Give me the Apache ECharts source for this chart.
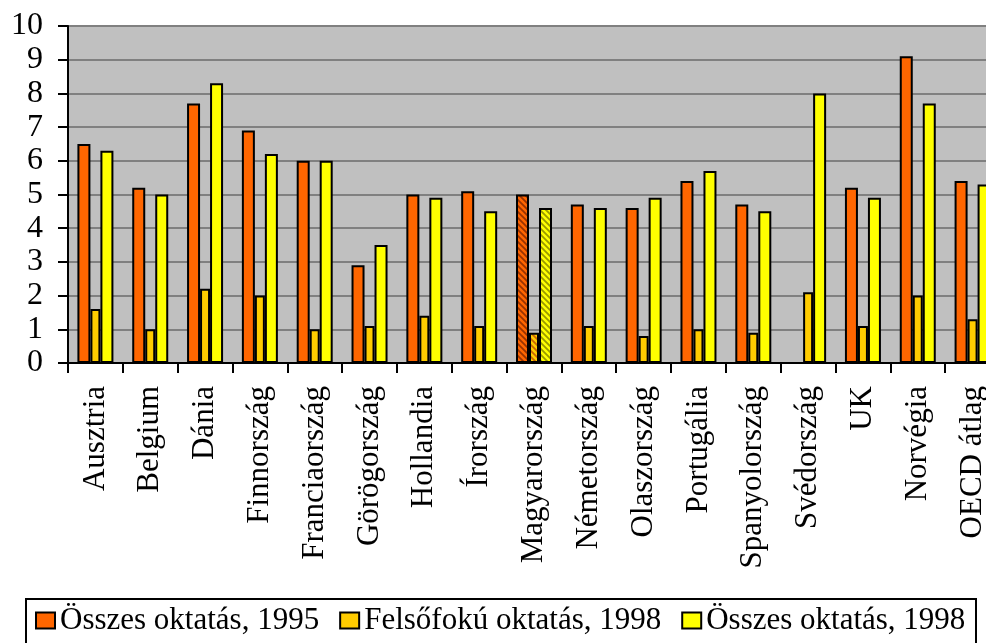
<!DOCTYPE html>
<html>
<head>
<meta charset="utf-8">
<script src="https://cdn.jsdelivr.net/npm/echarts@6/dist/echarts.min.js"></script>
<style>
  html, body { margin: 0; padding: 0; background: #fff; }
  #chart { width: 986px; height: 643px; }
</style>
</head>
<body>
<div id="chart"></div>
<script>
// adatok
const categories = ["Ausztria", "Belgium", "Dánia", "Finnország", "Franciaország", "Görögország",
  "Hollandia", "Írország", "Magyarország", "Németország", "Olaszország", "Portugália",
  "Spanyolország", "Svédország", "UK", "Norvégia", "OECD átlag"];
const osszes1995 = [6.5, 5.2, 7.7, 6.9, 6.0, 2.9, 5.0, 5.1, 5.0, 4.7, 4.6, 5.4, 4.7, null, 5.2, 9.1, 5.4];
const felsofoku1998 = [1.6, 1.0, 2.2, 2.0, 1.0, 1.1, 1.4, 1.1, 0.9, 1.1, 0.8, 1.0, 0.9, 2.1, 1.1, 2.0, 1.3];
const osszes1998 = [6.3, 5.0, 8.3, 6.2, 6.0, 3.5, 4.9, 4.5, 4.6, 4.6, 4.9, 5.7, 4.5, 8.0, 4.9, 7.7, 5.3];
const yTicks = [0, 10, 1]; // min, max, interval
const kiemelt = "Magyarország"; // sraffozott oszlopok

const FONT = "Liberation Serif";

// sraffozott minta (ferde csíkok)
const hatch = (base, stripe) => {
  const c = document.createElement("canvas");
  c.width = 6; c.height = 6;
  const g = c.getContext("2d");
  g.fillStyle = base;
  g.fillRect(0, 0, 6, 6);
  g.strokeStyle = stripe;
  g.lineWidth = 1.8;
  g.beginPath();
  g.moveTo(-3, 3); g.lineTo(3, 9);
  g.moveTo(0, 0); g.lineTo(6, 6);
  g.moveTo(3, -3); g.lineTo(9, 3);
  g.stroke();
  return { image: c, repeat: "repeat" };
};

const withHatch = (values, base, stripe) =>
  values.map((v, i) => {
    if (v === null) return "-";
    if (categories[i] === kiemelt) return { value: v, itemStyle: { color: hatch(base, stripe) } };
    return v;
  });

const chart = echarts.init(document.getElementById("chart"));

const barBase = {
  type: "bar",
  barGap: "0%",
  animation: false,
  itemStyle: { borderColor: "#000", borderWidth: 2 },
};

chart.setOption({
  backgroundColor: "#fff",
  animation: false,
  grid: {
    left: 68,
    top: 26,
    width: 932,
    bottom: 280,
    outerBoundsMode: "none",
    show: true,
    backgroundColor: "#C0C0C0",
    borderColor: "#000",
    borderWidth: 2,
  },
  graphic: [
    {
      type: "rect",
      left: 25,
      top: 598,
      shape: { width: 950, height: 70 },
      style: { fill: "#fff", stroke: "#000", lineWidth: 2 },
      z: 0,
    },
  ],
  legend: {
    left: 35,
    top: 605,
    padding: 0,
    itemWidth: 19,
    itemHeight: 16,
    itemGap: 20,
    icon: "rect",
    textStyle: { fontFamily: FONT, fontSize: 31, color: "#000" },
    data: ["Összes oktatás, 1995", "Felsőfokú oktatás, 1998", "Összes oktatás, 1998"],
    z: 5,
  },
  xAxis: {
    type: "category",
    data: categories,
    axisLine: { show: true, lineStyle: { color: "#000", width: 2 } },
    axisTick: { show: true, length: 10, lineStyle: { color: "#000", width: 2 } },
    axisLabel: {
      interval: 0,
      rotate: 90,
      margin: 23,
      fontFamily: FONT,
      fontSize: 31,
      color: "#000",
    },
    splitLine: { show: false },
  },
  yAxis: {
    type: "value",
    min: yTicks[0],
    max: yTicks[1],
    interval: yTicks[2],
    axisLine: { show: true, lineStyle: { color: "#000", width: 2 } },
    axisTick: { show: true, length: 10, lineStyle: { color: "#000", width: 2 } },
    axisLabel: { margin: 25, fontFamily: FONT, fontSize: 32, color: "#000" },
    splitLine: { show: true, lineStyle: { color: "#808080", width: 2 } },
  },
  series: [
    Object.assign({}, barBase, {
      name: "Összes oktatás, 1995",
      color: "#FF6600",
      barWidth: 13,
      data: withHatch(osszes1995, "#FF6600", "#993300"),
    }),
    Object.assign({}, barBase, {
      name: "Felsőfokú oktatás, 1998",
      color: "#FFCC00",
      barWidth: 10,
      data: withHatch(felsofoku1998, "#FFCC00", "#CC6600"),
    }),
    Object.assign({}, barBase, {
      name: "Összes oktatás, 1998",
      color: "#FFFF00",
      barWidth: 13,
      data: withHatch(osszes1998, "#FFFF00", "#999900"),
    }),
  ],
});
</script>
</body>
</html>
